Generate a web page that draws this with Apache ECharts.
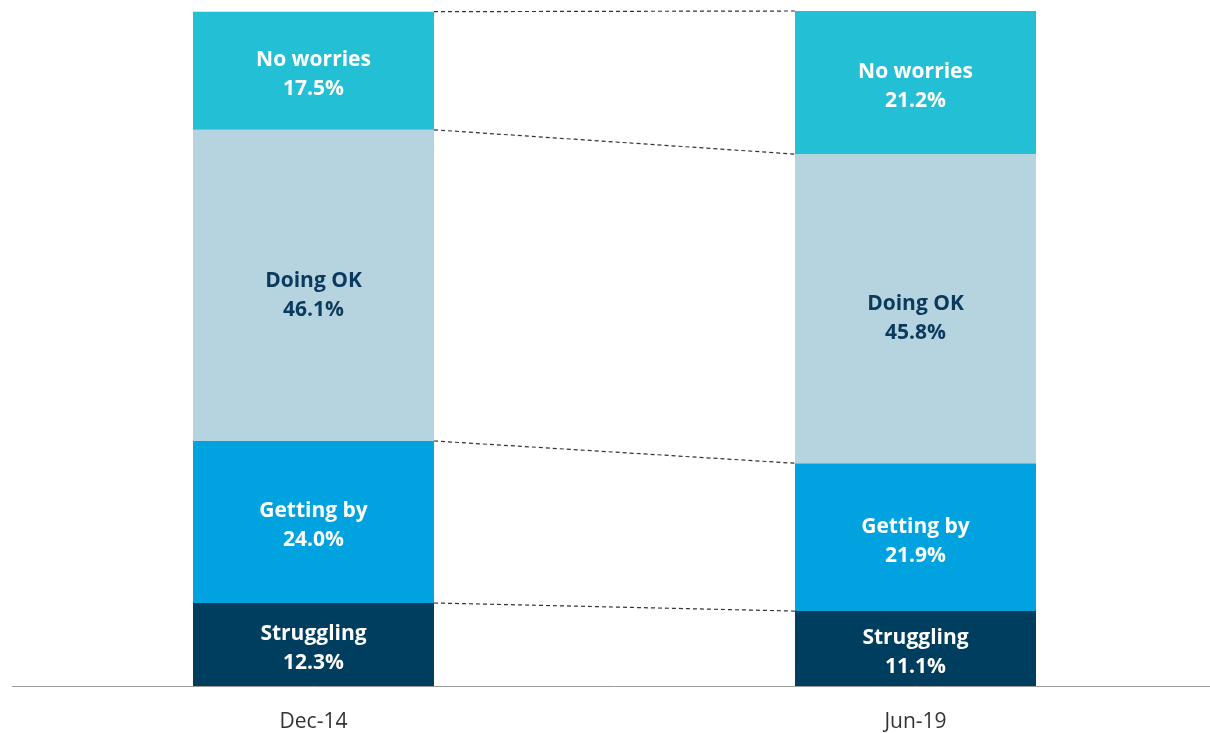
<!DOCTYPE html>
<html>
<head>
<meta charset="utf-8">
<script src="https://cdn.jsdelivr.net/npm/echarts@6/dist/echarts.min.js"></script>
<style>
  html, body { margin: 0; padding: 0; background: #fff; overflow: hidden; }
  #wrap { width: 1210px; height: 733px; overflow: hidden; position: relative; }
  #main { position: absolute; left: 0; top: 0; width: 1218px; height: 733px; }
</style>
</head>
<body>
<div id="wrap"><div id="main"></div></div>
<script>
// data
const periods = ['Dec-14', 'Jun-19'];
const groups = ['Struggling', 'Getting by', 'Doing OK', 'No worries'];
const struggling = [12.3, 11.1];
const gettingBy = [24.0, 21.9];
const doingOk = [46.1, 45.8];
const noWorries = [17.5, 21.2];

const colors = ['#003e5f', '#00a2e0', '#b6d3e0', '#23bfd5'];
const labelColors = ['#ffffff', '#ffffff', '#0b3a5c', '#ffffff'];
const labelShift = [4, 4, 10, 4];
const barW = 241;

let chartDom = document.getElementById('main');
let chart = echarts.init(chartDom);

const values = [struggling, gettingBy, doingOk, noWorries];

// boundaries between segments (cumulative tops)
let bounds = [];
let cumL = 0, cumR = 0;
values.forEach(function (v) {
    cumL += v[0];
    cumR += v[1];
    bounds.push([0, cumL, cumR]);
});

let barSeries = groups.map(function (name, i) {
    return {
        name: name,
        type: 'bar',
        stack: 'total',
        barWidth: barW,
        data: values[i],
        itemStyle: { color: colors[i] },
        label: {
            show: true,
            position: 'inside',
            offset: [0, labelShift[i]],
            color: labelColors[i],
            fontFamily: 'Open Sans',
            fontWeight: 'bold',
            fontSize: 21,
            lineHeight: 29,
            formatter: function (p) {
                return p.seriesName + '\n' + p.value.toFixed(1) + '%';
            }
        },
        emphasis: { disabled: true }
    };
});

let option = {
    animation: false,
    grid: { left: 12.5, width: 1204, top: 11, height: 677 },
    xAxis: {
        type: 'category',
        data: periods,
        axisLine: { lineStyle: { color: '#9a9a9a', width: 1 } },
        axisTick: { show: false },
        axisLabel: {
            color: '#333',
            fontFamily: 'Open Sans',
            fontSize: 21,
            margin: 26
        }
    },
    yAxis: {
        type: 'value',
        min: 0,
        max: 100,
        show: false
    },
    series: barSeries.concat([{
        type: 'custom',
        silent: true,
        z: 1,
        encode: { x: 0, y: 1 },
        data: bounds,
        renderItem: function (params, api) {
            let p1 = api.coord([0, api.value(1)]);
            let p2 = api.coord([1, api.value(2)]);
            return {
                type: 'line',
                shape: { x1: p1[0] + barW / 2, y1: p1[1], x2: p2[0] - barW / 2, y2: p2[1] },
                style: { stroke: '#333', lineWidth: 1.2, lineDash: [4, 3] }
            };
        }
    }])
};

option && chart.setOption(option);
</script>
</body>
</html>
